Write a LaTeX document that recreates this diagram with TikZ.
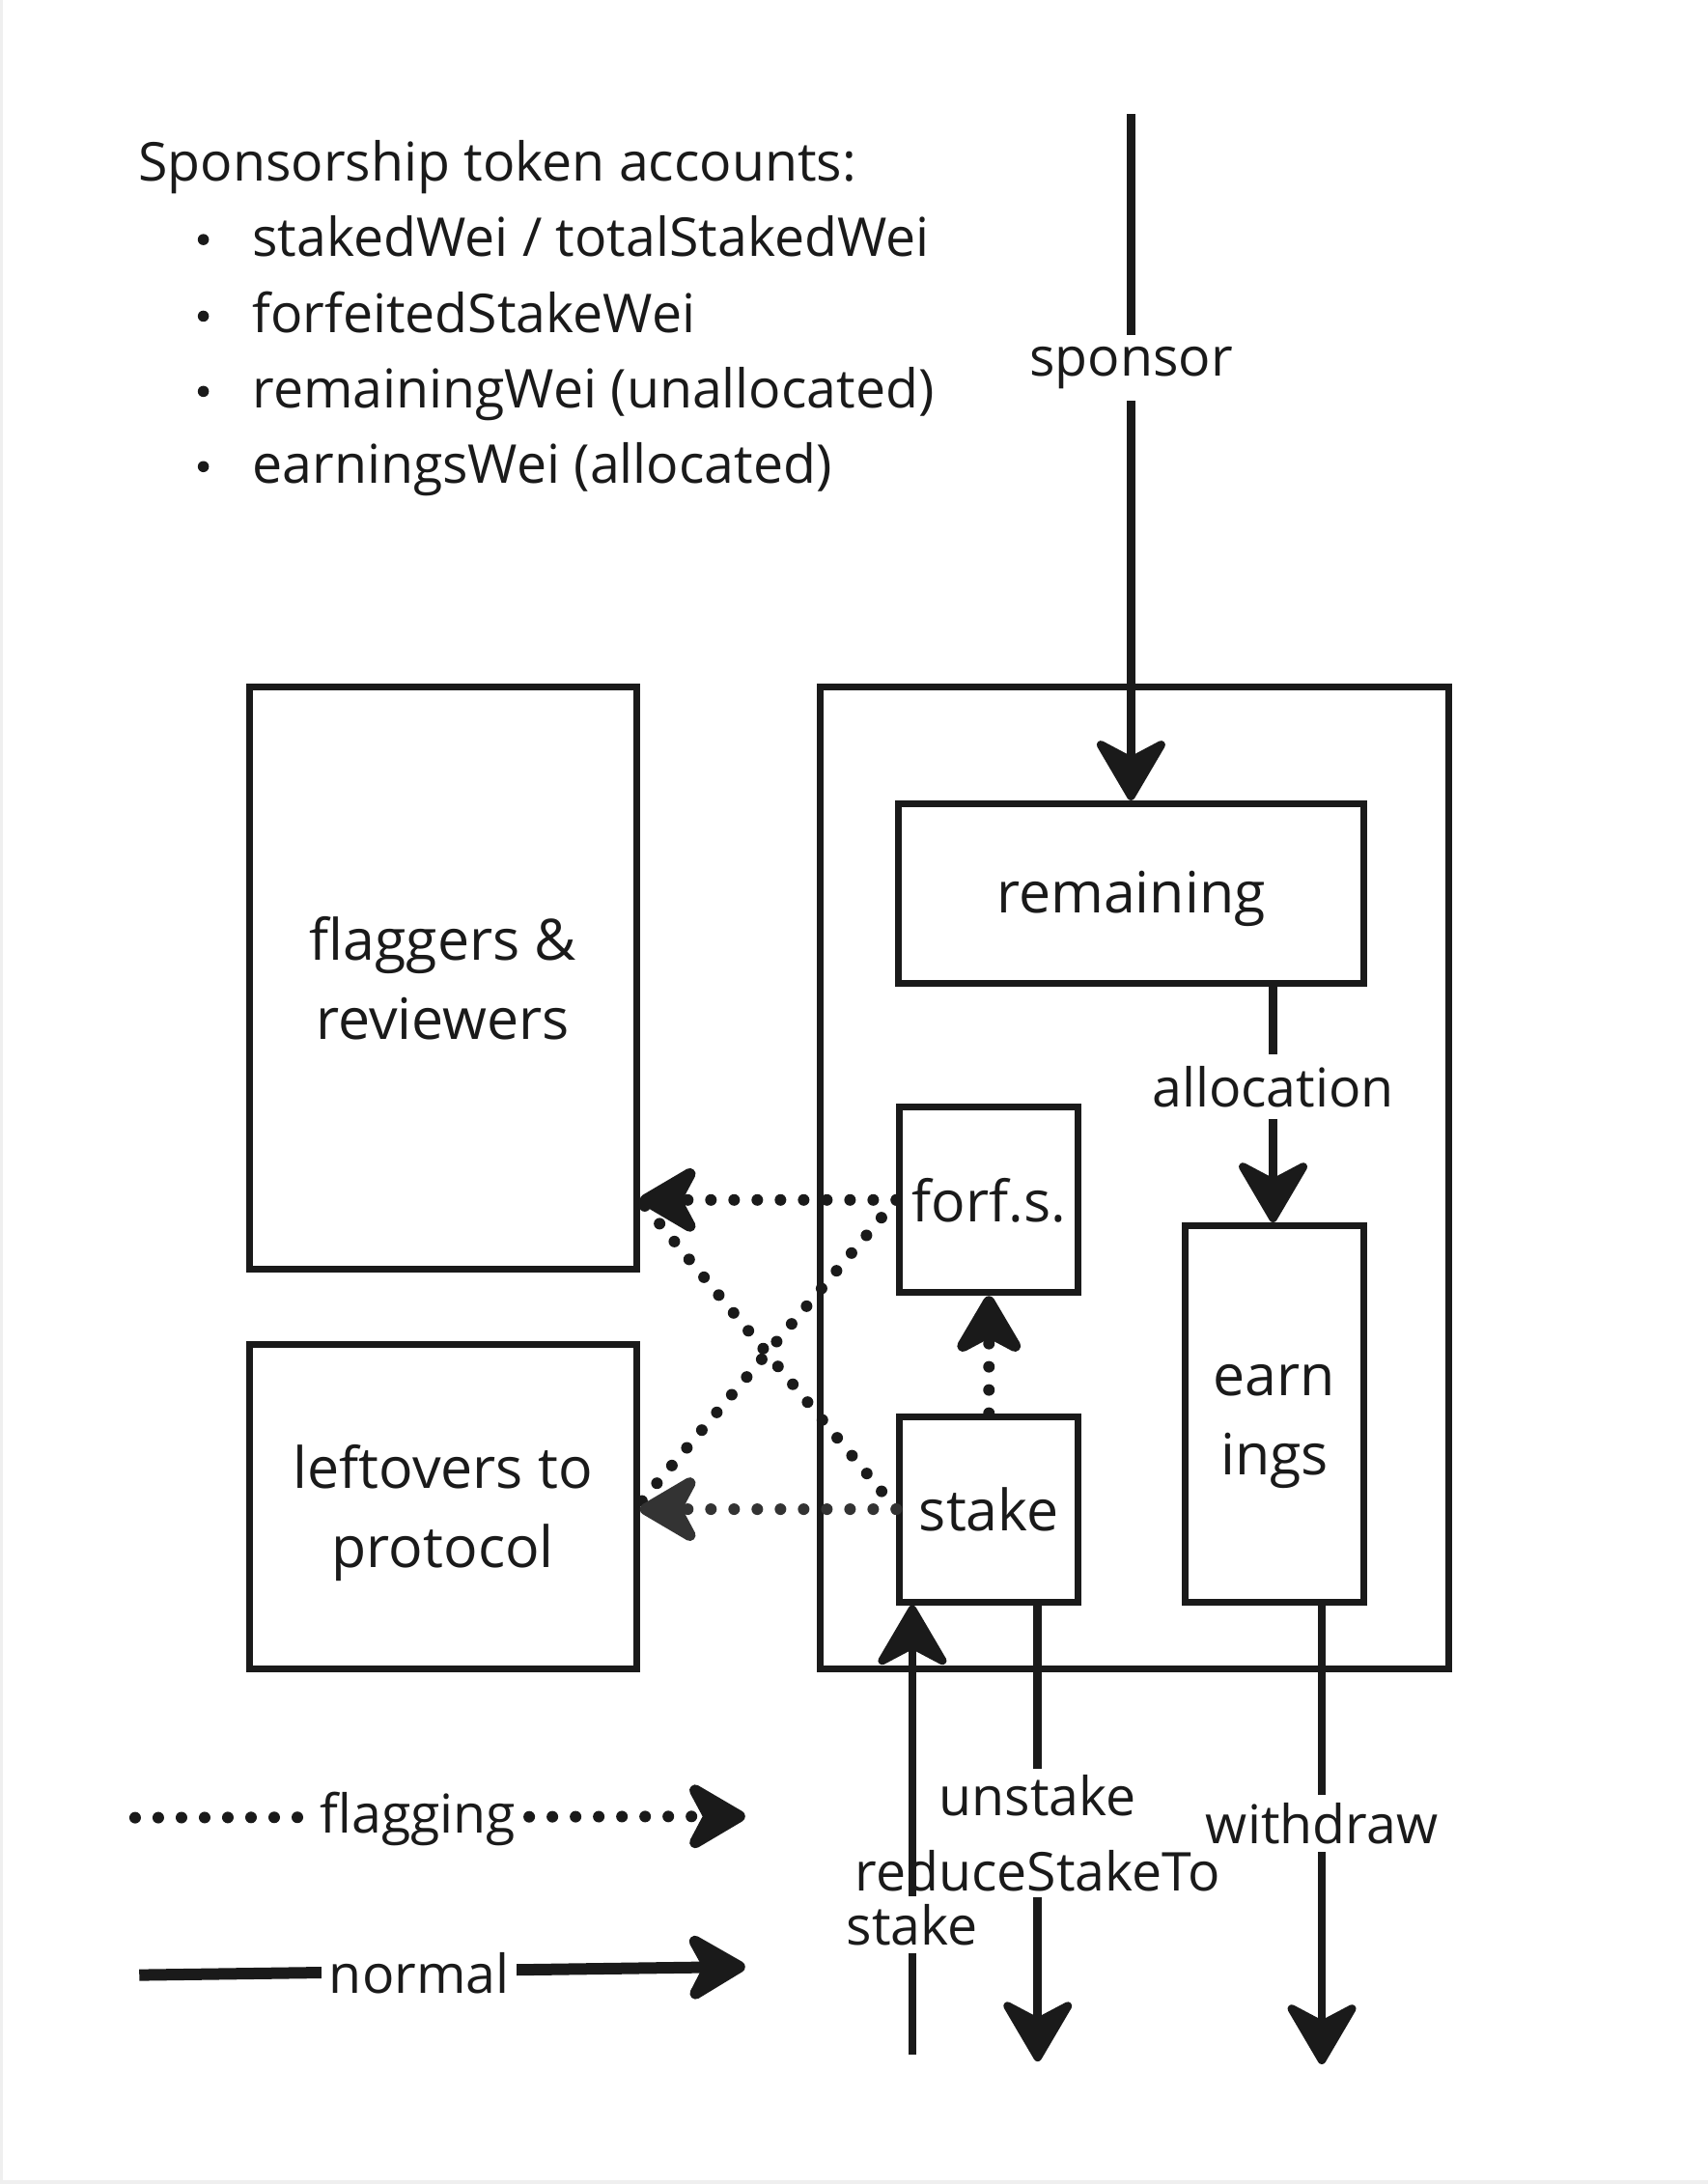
\documentclass[tikz,border=0pt]{standalone}
\usepackage{fontspec}
\setmainfont{Open Sans}
\usetikzlibrary{arrows.meta}
\definecolor{ink}{HTML}{1A1A1A}
\definecolor{greyink}{HTML}{333333}
\definecolor{edge}{HTML}{EFEFEF}
\begin{document}
\begin{tikzpicture}[x=0.721pt,y=-0.721pt,
  font=\fontsize{27.7}{39}\selectfont,
  box/.style={draw=ink, line width=3.5pt, inner sep=0pt, align=center, text=ink,
    font=\fontsize{29.5}{41}\selectfont, text depth=0pt},
  boxtext/.style={inner sep=0pt, align=center, text=ink, font=\fontsize{29.5}{41}\selectfont},
  lab/.style={fill=white, inner xsep=2pt, inner ysep=6pt, text=ink},
  plain/.style={inner sep=0pt, text=ink, anchor=base west},
  flow/.style={draw=ink, line width=4.3pt},
  dots/.style={line width=6pt, line cap=round, dash pattern=on 0pt off 12pt},
  tip/.style={-{Stealth[length=36pt,width=42pt,inset=11pt,round]}},
]
\useasboundingbox (0,0) rectangle (1226,1568);
\fill[edge] (0,0) rectangle (2,1568);
\fill[edge] (0,1565) rectangle (1226,1568);

% title block
\node[plain] (title) at (99,130) {Sponsorship token accounts:};
\foreach \i/\yy/\txt in {1/184/{stakedWei / totalStakedWei},2/239/{forfeitedStakeWei},3/293/{remainingWei (unallocated)},4/347/{earningsWei (allocated)}}{
  \fill[ink] (146,\yy-12) circle (4);
  \node[plain] (item\i) at (181,\yy) {\txt};
}

% boxes
\node[draw=ink, line width=3.5pt, minimum width=325.2pt, minimum height=508.3pt, inner sep=0pt] (spons) at (814.5,845.5) {};
\node[box, minimum width=240.8pt, minimum height=93pt] (rem) at (812,641.5) {};
\node[boxtext] (remTxt) at (812,645) {remaining};
\node[box, minimum width=92.3pt, minimum height=194.7pt] (earn) at (915,1015) {};
\node[boxtext] (earnTxt) at (915,1024) {earn\\ings};
\node[box, minimum width=92.3pt, minimum height=95.9pt] (forf) at (710,861.5) {forf.s.};
\node[box, minimum width=92.3pt, minimum height=95.9pt] (stake) at (710,1083.5) {stake};
\node[box, minimum width=200.4pt, minimum height=301.4pt] (flag) at (318,702) {flaggers \&\\reviewers};
\node[box, minimum width=200.4pt, minimum height=168pt] (left) at (318,1081.5) {leftovers to\\protocol};

% sponsor
\coordinate (sTop) at (812,82);
\node[lab] (sponsorLab) at (812,264) {sponsor};
\draw[flow] (sTop) -- (sponsorLab.north);
\draw[flow, tip] (sponsorLab.south) -- (rem.north);

% allocation
\node[lab] (allocLab) at (914,780) {allocation};
\draw[flow] (rem.south -| allocLab) -- (allocLab.north);
\draw[flow, tip] (allocLab.south) -- (earn.north -| allocLab);

% dotted flagging flows
\draw[dots, ink, tip] (stake.north) -- (forf.south);
\draw[dots, ink] (forf.west) -- ([yshift=3pt]left.east |- stake.west);
\draw[dots, ink] (stake.west) -- (flag.east |- forf.west);
\draw[dots, ink, tip] (forf.west) -- (flag.east |- forf.west);
\draw[dots, greyink, tip] (stake.west) -- (left.east |- stake.west);

% unstake / withdraw / stake
\coordinate (uEnd) at (745,1480);
\coordinate (wEnd) at (949,1482);
\coordinate (sIn) at (655,1475);
\node[lab, align=center, inner ysep=3pt] (unstakeLab) at (745,1316) {unstake\\reduceStakeTo};
\draw[flow] (stake.south -| uEnd) -- (unstakeLab.north -| uEnd);
\draw[flow, tip] (unstakeLab.south -| uEnd) -- (uEnd);
\node[lab, inner ysep=4pt] (withdrawLab) at (949,1309) {withdraw};
\draw[flow] (earn.south -| wEnd) -- (withdrawLab.north);
\draw[flow, tip] (withdrawLab.south) -- (wEnd);
\node[lab, inner ysep=4pt] (stakeLab) at (655,1382) {stake};
\draw[flow] (sIn) -- (stakeLab.south);
\draw[flow, tip] (stakeLab.north) -- (stake.south -| sIn);

% legend
\coordinate (fa) at (97,1305);
\coordinate (fb) at (535,1304);
\draw[dots, ink, tip] (fa) -- (fb);
\node[lab, inner sep=4pt] (flagLab) at (300,1306) {flagging};
\coordinate (na) at (100,1418);
\coordinate (nb) at (535,1412);
\draw[ink, line width=6pt, tip] (na) -- (nb);
\node[lab, inner sep=4pt] (normLab) at (301,1417) {normal};
\end{tikzpicture}
\end{document}
